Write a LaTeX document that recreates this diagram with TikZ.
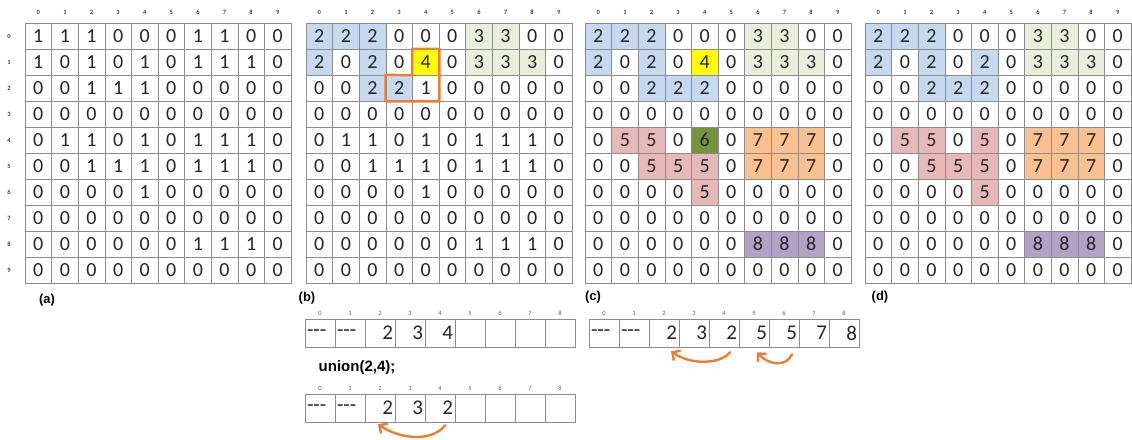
\documentclass[tikz,border=0pt]{standalone}
\usepackage{fontspec}
\setmainfont{Carlito}
\newfontfamily\labelfont{Liberation Sans}
\usepackage{xcolor}
\usetikzlibrary{arrows.meta,positioning,calc}

% fill colour of a cell, by its value
\definecolor{v0}{HTML}{FFFFFF}
\definecolor{v1}{HTML}{FFFFFF}
\definecolor{v2}{HTML}{C5D9F1}
\definecolor{v3}{HTML}{EAEFDC}
\definecolor{v4}{HTML}{FFFF00}
\definecolor{v5}{HTML}{E6B9B8}
\definecolor{v6}{HTML}{77933C}
\definecolor{v7}{HTML}{FAC090}
\definecolor{v8}{HTML}{B3A2C7}
\definecolor{linegray}{HTML}{8C8C8C}
\definecolor{hilite}{HTML}{ED7D31}

\begin{document}
\begin{tikzpicture}[x=1pt, y=-1pt, every node/.style={font=\small},
	cell/.style={draw=linegray, line width=0.6pt, minimum width=26.6pt, minimum height=26pt, inner sep=0pt, text=black!85, font=\fontsize{20}{20}\selectfont},
	idx/.style={inner sep=0pt, text=black!75, font=\fontsize{6.5}{6.5}\selectfont\bfseries},
	sidx/.style={inner sep=0pt, text=black!65, font=\fontsize{6.5}{6.5}\selectfont},
	slot/.style={draw=linegray, line width=0.6pt, minimum width=30pt, minimum height=28pt, inner sep=0pt, text width=26pt, text=black!85, font=\fontsize{21}{21}\selectfont},
	tag/.style={inner sep=0pt, font=\labelfont\bfseries\fontsize{13}{13}\selectfont},
	link/.style={draw=hilite, line width=2.4pt, line cap=round, -{Straight Barb[length=6pt,width=12pt]}}]
	\useasboundingbox (0,0) rectangle (1132,439);

	% column and row numbers
	\foreach \g/\x in {a/25,b/306,c/585,d/865}
		\foreach \c in {0,...,9}
			\node[idx] (h\g-\c) at ({\x+26.6*\c+13.3},12) {\c};
	\foreach \r in {0,...,9}
		\node[idx] (row-\r) at (9,{23+26*\r+13}) {\r};

	% (a) input image
	\foreach \row [count=\r from 0] in {{1,1,1,0,0,0,1,1,0,0},{1,0,1,0,1,0,1,1,1,0},{0,0,1,1,1,0,0,0,0,0},{0,0,0,0,0,0,0,0,0,0},{0,1,1,0,1,0,1,1,1,0},{0,0,1,1,1,0,1,1,1,0},{0,0,0,0,1,0,0,0,0,0},{0,0,0,0,0,0,0,0,0,0},{0,0,0,0,0,0,1,1,1,0},{0,0,0,0,0,0,0,0,0,0}}
		\foreach \v [count=\c from 0] in \row
			\node[cell, fill=v\v] (a-\r-\c) at ({25+26.6*\c+13.3},{23+26*\r+13}) {\v};

	% (b) first pass, rows 0-2
	\foreach \row [count=\r from 0] in {{2,2,2,0,0,0,3,3,0,0},{2,0,2,0,4,0,3,3,3,0},{0,0,2,2,1,0,0,0,0,0},{0,0,0,0,0,0,0,0,0,0},{0,1,1,0,1,0,1,1,1,0},{0,0,1,1,1,0,1,1,1,0},{0,0,0,0,1,0,0,0,0,0},{0,0,0,0,0,0,0,0,0,0},{0,0,0,0,0,0,1,1,1,0},{0,0,0,0,0,0,0,0,0,0}}
		\foreach \v [count=\c from 0] in \row
			\node[cell, fill=v\v] (b-\r-\c) at ({306+26.6*\c+13.3},{23+26*\r+13}) {\v};

	% (c) first pass done
	\foreach \row [count=\r from 0] in {{2,2,2,0,0,0,3,3,0,0},{2,0,2,0,4,0,3,3,3,0},{0,0,2,2,2,0,0,0,0,0},{0,0,0,0,0,0,0,0,0,0},{0,5,5,0,6,0,7,7,7,0},{0,0,5,5,5,0,7,7,7,0},{0,0,0,0,5,0,0,0,0,0},{0,0,0,0,0,0,0,0,0,0},{0,0,0,0,0,0,8,8,8,0},{0,0,0,0,0,0,0,0,0,0}}
		\foreach \v [count=\c from 0] in \row
			\node[cell, fill=v\v] (c-\r-\c) at ({585+26.6*\c+13.3},{23+26*\r+13}) {\v};

	% (d) second pass
	\foreach \row [count=\r from 0] in {{2,2,2,0,0,0,3,3,0,0},{2,0,2,0,2,0,3,3,3,0},{0,0,2,2,2,0,0,0,0,0},{0,0,0,0,0,0,0,0,0,0},{0,5,5,0,5,0,7,7,7,0},{0,0,5,5,5,0,7,7,7,0},{0,0,0,0,5,0,0,0,0,0},{0,0,0,0,0,0,0,0,0,0},{0,0,0,0,0,0,8,8,8,0},{0,0,0,0,0,0,0,0,0,0}}
		\foreach \v [count=\c from 0] in \row
			\node[cell, fill=v\v] (d-\r-\c) at ({865+26.6*\c+13.3},{23+26*\r+13}) {\v};

	% neighbourhood of pixel (2,4)
	\draw[hilite, line width=2.4pt, line join=round] (b-1-4.north west) -- (b-1-4.north east) -- (b-2-4.south east) -- (b-2-3.south west) -- (b-2-3.north west) -- (b-1-4.south west) -- cycle;

	\node[tag] (la) at (47,300) {(a)};
	\node[tag] (lb) at (307,298) {(b)};
	\node[tag] (lc) at (593,297) {(c)};
	\node[tag] (ld) at (880,297) {(d)};

	% equivalence tables
	\foreach \v/\al [count=\i from 0] in {{-}{-}{-}/left,{-}{-}{-}/left,2/right,3/right,4/right,/right,/right,/right,/right} {
		\node[sidx] (bti-\i) at ({305+30*\i+15},313) {\i};
		\node[slot, align=\al] (bt-\i) at ({305+30*\i+15},333) {\v};
	}
	\node[tag, font=\labelfont\bfseries\fontsize{15}{15}\selectfont] (un) at (357,368) {union(2,4);};
	\foreach \v/\al [count=\i from 0] in {{-}{-}{-}/left,{-}{-}{-}/left,2/right,3/right,2/right,/right,/right,/right,/right} {
		\node[sidx] (bbi-\i) at ({305+30*\i+15},388) {\i};
		\node[slot, align=\al] (bb-\i) at ({305+30*\i+15},408) {\v};
	}
	\foreach \v/\al [count=\i from 0] in {{-}{-}{-}/left,{-}{-}{-}/left,2/right,3/right,2/right,5/right,5/right,7/right,8/right} {
		\node[sidx] (cti-\i) at ({589+30*\i+15},313) {\i};
		\node[slot, align=\al] (ct-\i) at ({589+30*\i+15},333) {\v};
	}

	\draw[link] ([xshift=5pt,yshift=-3pt]bb-4.south) .. controls +(-12,16) and +(24,16) .. ([xshift=-2pt,yshift=-2pt]bb-2.south);
	\draw[link] ([xshift=6pt,yshift=-5pt]ct-4.south) .. controls +(-10,12) and +(20,14) .. ([xshift=7pt,yshift=-4pt]ct-2.south);
	\draw[link] ([xshift=8pt,yshift=-7pt]ct-6.south) .. controls +(-6,13) and +(12,13) .. ([xshift=3pt,yshift=-5pt]ct-5.south);
\end{tikzpicture}
\end{document}
